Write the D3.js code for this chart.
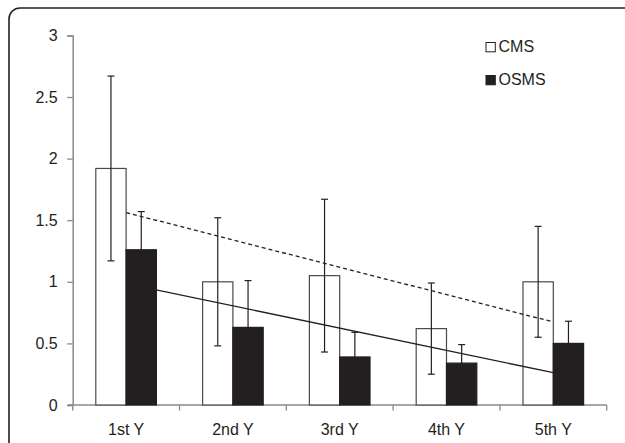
<!DOCTYPE html>
<html>
<head>
<meta charset="utf-8">
<script src="https://cdn.jsdelivr.net/npm/d3@7"></script>
<style>
  html, body { margin: 0; padding: 0; background: #fff; }
  svg { display: block; }
  text { font-family: "Liberation Sans", Arial, sans-serif; fill: #231f20; }
</style>
</head>
<body>
<svg id="chart" width="625" height="443"></svg>
<script>
// ---- data ----
const categories = ["1st Y", "2nd Y", "3rd Y", "4th Y", "5th Y"];
const seriesNames = ["CMS", "OSMS"];
const cmsValues = [1.92, 1.00, 1.05, 0.62, 1.00];
const cmsErrLow = [1.17, 0.48, 0.43, 0.25, 0.55];
const cmsErrHigh = [2.67, 1.52, 1.67, 0.99, 1.45];
const osmsValues = [1.26, 0.63, 0.39, 0.34, 0.50];
const osmsErrLow = [0.95, 0.25, 0.19, 0.19, 0.32];
const osmsErrHigh = [1.57, 1.01, 0.59, 0.49, 0.68];
const yTicks = [0, 0.5, 1, 1.5, 2, 2.5, 3];

const svg = d3.select("#chart");

// frame
svg.append("rect")
  .attr("x", 9).attr("y", 8)
  .attr("width", 660).attr("height", 480)
  .attr("rx", 11).attr("ry", 11)
  .attr("fill", "none").attr("stroke", "#231f20").attr("stroke-width", 1.6);

const x = d3.scaleBand().domain(categories).range([72.7, 606.7]).paddingInner(0).paddingOuter(0);
const xs = d3.scaleBand().domain(seriesNames).range([0, x.bandwidth()]).paddingInner(0).paddingOuter(0.762);
const y = d3.scaleLinear().domain([0, 3]).range([405, 35.4]);

// y axis
const yAxis = d3.axisLeft(y).tickValues(yTicks).tickSize(5.5).tickPadding(9.5)
  .tickFormat(d => String(d));
const gy = svg.append("g").attr("transform", `translate(${x.range()[0]},0)`).call(yAxis);
gy.select(".domain").attr("stroke", "#8a8a8a").attr("stroke-width", 1.5);
gy.selectAll(".tick line").attr("stroke", "#8a8a8a").attr("stroke-width", 1.3);
gy.selectAll(".tick text").attr("font-size", 16).attr("fill", "#231f20")
  .style("font-family", '"Liberation Sans", Arial, sans-serif');

// x axis with ticks at band boundaries
const gx = svg.append("g").attr("transform", `translate(0,${y(0)})`);
gx.append("line")
  .attr("x1", x.range()[0] - 5).attr("x2", x.range()[1])
  .attr("y1", 0).attr("y2", 0)
  .attr("stroke", "#8a8a8a").attr("stroke-width", 1.5);
const boundaries = categories.map(c => x(c)).concat([x.range()[1]]);
gx.selectAll("line.btick").data(boundaries).join("line")
  .attr("class", "btick")
  .attr("x1", d => d).attr("x2", d => d)
  .attr("y1", 0).attr("y2", 5.5)
  .attr("stroke", "#8a8a8a").attr("stroke-width", 1.3);
gx.selectAll("text.xl").data(categories).join("text")
  .attr("class", "xl")
  .attr("x", d => x(d) + x.bandwidth() / 2)
  .attr("y", 30)
  .attr("text-anchor", "middle")
  .attr("font-size", 16)
  .text(d => d);

// bars
const rows = categories.map((c, i) => ({
  c,
  vals: [
    { s: "CMS", v: cmsValues[i], lo: cmsErrLow[i], hi: cmsErrHigh[i] },
    { s: "OSMS", v: osmsValues[i], lo: osmsErrLow[i], hi: osmsErrHigh[i] }
  ]
}));

const groups = svg.append("g").selectAll("g").data(rows).join("g")
  .attr("transform", d => `translate(${x(d.c)},0)`);

groups.selectAll("rect").data(d => d.vals).join("rect")
  .attr("x", d => xs(d.s))
  .attr("y", d => y(d.v))
  .attr("width", xs.bandwidth())
  .attr("height", d => y(0) - y(d.v))
  .attr("fill", d => d.s === "CMS" ? "#ffffff" : "#231f20")
  .attr("stroke", d => d.s === "CMS" ? "#4a4a4a" : "#231f20")
  .attr("stroke-width", 1.2);

// error bars
const eb = groups.selectAll("g.err").data(d => d.vals).join("g").attr("class", "err")
  .attr("stroke", "#231f20")
  .attr("stroke-width", 1.2);
const cx = d => xs(d.s) + xs.bandwidth() / 2;
eb.append("line").attr("x1", cx).attr("x2", cx).attr("y1", d => y(d.lo)).attr("y2", d => y(d.hi));
eb.append("line").attr("x1", d => cx(d) - 3.5).attr("x2", d => cx(d) + 3.5).attr("y1", d => y(d.hi)).attr("y2", d => y(d.hi));
eb.append("line").attr("x1", d => cx(d) - 3.5).attr("x2", d => cx(d) + 3.5).attr("y1", d => y(d.lo)).attr("y2", d => y(d.lo));

// linear trend lines (least squares over categories 1..5)
function trend(vals) {
  const n = vals.length;
  const xsI = vals.map((_, i) => i + 1);
  const mx = d3.mean(xsI), my = d3.mean(vals);
  const b = d3.sum(xsI.map((xi, i) => (xi - mx) * (vals[i] - my))) / d3.sum(xsI.map(xi => (xi - mx) ** 2));
  const a = my - b * mx;
  return [{ i: 0, v: a + b * 1 }, { i: n - 1, v: a + b * n }];
}
const line = d3.line()
  .x(d => x(categories[d.i]) + x.bandwidth() / 2)
  .y(d => y(d.v));

svg.append("path").datum(trend(cmsValues))
  .attr("d", line).attr("fill", "none")
  .attr("stroke", "#231f20").attr("stroke-width", 1.3)
  .attr("stroke-dasharray", "4,3");
svg.append("path").datum(trend(osmsValues))
  .attr("d", line).attr("fill", "none")
  .attr("stroke", "#231f20").attr("stroke-width", 1.3);

// legend
const legend = svg.append("g").attr("transform", "translate(486,0)");
const legItems = [
  { name: "CMS", fill: "#ffffff", y: 52 },
  { name: "OSMS", fill: "#231f20", y: 85 }
];
const li = legend.selectAll("g").data(legItems).join("g")
  .attr("transform", d => `translate(0,${d.y})`);
li.append("rect")
  .attr("x", 0).attr("y", -9.5).attr("width", 9.3).attr("height", 9.3)
  .attr("fill", d => d.fill).attr("stroke", "#231f20").attr("stroke-width", 1);
li.append("text").attr("x", 12.5).attr("y", 0).attr("font-size", 16).text(d => d.name);
</script>
</body>
</html>
